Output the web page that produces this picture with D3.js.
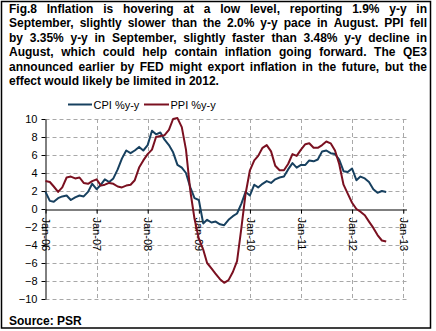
<!DOCTYPE html>
<html>
<head>
<meta charset="utf-8">
<script src="https://cdn.jsdelivr.net/npm/d3@7"></script>
<style>
  html, body { margin: 0; padding: 0; background: #fff; }
  svg { display: block; }
  text { font-family: "Liberation Sans", Arial, sans-serif; }
</style>
</head>
<body>
<svg id="chart" width="436" height="331"></svg>
<script>
// ---- Data (monthly, Jan-2006 .. Sep-2012) ----
const startMonth = "2006-01";
const cpi = [
  1.9, 0.9, 0.8, 1.2, 1.4, 1.5, 1.0, 1.3, 1.5, 1.4, 1.9, 2.8,
  2.2, 2.7, 3.3, 3.0, 3.4, 4.4, 5.6, 6.5, 6.2, 6.5, 6.9, 6.5,
  7.1, 8.7, 8.3, 8.5, 7.7, 7.1, 6.3, 4.9, 4.6, 4.0, 2.4, 1.2,
  1.0, -1.6, -1.2, -1.5, -1.4, -1.7, -1.8, -1.2, -0.8, -0.5, 0.6, 1.9,
  1.5, 2.7, 2.4, 2.8, 3.1, 2.9, 3.3, 3.5, 3.6, 4.4, 5.1, 4.6,
  4.9, 4.9, 5.4, 5.3, 5.5, 6.4, 6.5, 6.2, 6.1, 5.5, 4.2, 4.1,
  4.5, 3.2, 3.6, 3.4, 3.0, 2.2, 1.8, 2.0, 1.9
];
const ppi = [
  3.1, 3.0, 2.5, 1.9, 2.4, 3.5, 3.6, 3.4, 3.5, 2.9, 2.8, 3.1,
  3.3, 2.6, 2.7, 2.9, 2.8, 2.5, 2.4, 2.6, 2.7, 3.2, 4.6, 5.4,
  6.1, 6.6, 8.0, 8.1, 8.2, 8.8, 10.0, 10.1, 9.1, 6.6, 2.0, -1.1,
  -3.3, -4.5, -6.0, -6.6, -7.2, -7.8, -8.2, -7.9, -7.0, -5.8, -2.1, 1.7,
  4.3, 5.4, 5.9, 6.8, 7.1, 6.4, 4.8, 4.3, 4.3, 5.0, 6.1, 5.9,
  6.6, 7.2, 7.3, 6.8, 6.8, 7.1, 7.5, 7.3, 6.5, 5.0, 2.7, 1.7,
  0.7, 0.0, -0.3, -0.7, -1.4, -2.1, -2.9, -3.5, -3.6
];
const seriesNames = ["CPI %y-y", "PPI %y-y"];
const seriesColors = ["#17405f", "#7a1020"];
const yTicks = [-10, -8, -6, -4, -2, 0, 2, 4, 6, 8, 10];
const xTickYears = [2006, 2007, 2008, 2009, 2010, 2011, 2012, 2013];
const titleLines = [
  "Fig.8 Inflation is hovering at a low level, reporting 1.9% y-y in",
  "September, slightly slower than the 2.0% y-y pace in August. PPI fell",
  "by 3.35% y-y in September, slightly faster than 3.48% y-y decline in",
  "August, which could help contain inflation going forward. The QE3",
  "announced earlier by FED might export inflation in the future, but the",
  "effect would likely be limited in 2012."
];
const sourceText = "Source: PSR";

// ---- Build dates ----
const parseMonth = d3.timeParse("%Y-%m");
const d0 = parseMonth(startMonth);
const dates = cpi.map((_, i) => d3.timeMonth.offset(d0, i));

const svg = d3.select("#chart");
const W = 436, H = 331;

svg.append("rect").attr("x", 0).attr("y", 0).attr("width", W).attr("height", H).attr("fill", "#fff");
svg.append("rect").attr("x", 1.5).attr("y", 1.5).attr("width", 429).attr("height", 326.5)
  .attr("fill", "none").attr("stroke", "#000").attr("stroke-width", 1.5);

// ---- Title (justified) ----
const tLeft = 9, tRight = 427, tBase = 13, tStep = 14.4;
const titleG = svg.append("g").attr("font-size", 12).attr("font-weight", "bold").attr("fill", "#000");
titleLines.forEach((line, li) => {
  const words = line.split(" ");
  const yy = tBase + li * tStep;
  const nodes = words.map(w => titleG.append("text").attr("y", yy).text(w));
  const widths = nodes.map(n => n.node().getComputedTextLength());
  const total = d3.sum(widths);
  const last = li === titleLines.length - 1;
  const spaceW = 3.3;
  const gap = last ? spaceW : (tRight - tLeft - total) / (words.length - 1);
  let xx = tLeft;
  nodes.forEach((n, i) => { n.attr("x", xx); xx += widths[i] + gap; });
});

// ---- Scales ----
const x = d3.scaleTime()
  .domain([new Date(2006, 0, 1), new Date(2013, 0, 24)])
  .range([45.5, 406.5]);
const y = d3.scaleLinear().domain([-10, 10]).range([299, 119]);

// ---- Grid ----
const grid = svg.append("g").attr("stroke", "#a8a8a8").attr("stroke-width", 1).attr("stroke-dasharray", "4,3");
grid.selectAll("line.h").data(yTicks.filter(v => v !== 0)).enter().append("line")
  .attr("x1", x.range()[0]).attr("x2", x.range()[1])
  .attr("y1", d => Math.round(y(d)) + 0.5).attr("y2", d => Math.round(y(d)) + 0.5);
const yearDates = xTickYears.map(yr => new Date(yr, 0, 1));
grid.selectAll("line.v").data(yearDates.slice(1)).enter().append("line")
  .attr("x1", d => Math.round(x(d)) + 0.5).attr("x2", d => Math.round(x(d)) + 0.5)
  .attr("y1", y(10)).attr("y2", y(-10));

// ---- Axes ----
const yAxis = svg.append("g").attr("transform", `translate(${x.range()[0]},0)`)
  .call(d3.axisLeft(y).tickValues(yTicks).tickSize(4).tickSizeOuter(0).tickPadding(4));
yAxis.selectAll("text").attr("font-size", 11).attr("fill", "#000")
  .attr("font-family", "'Liberation Sans', Arial, sans-serif");
yAxis.selectAll("line, path").attr("stroke", "#000");

const xAxis = svg.append("g").attr("transform", `translate(0,${Math.round(y(0)) + 0.5})`)
  .call(d3.axisBottom(x).tickValues(yearDates).tickSize(4).tickSizeOuter(0)
    .tickFormat(d3.timeFormat("%b-%y")));
xAxis.selectAll("line, path").attr("stroke", "#000");
xAxis.selectAll("text")
  .attr("font-size", 11).attr("fill", "#000")
  .attr("font-family", "'Liberation Sans', Arial, sans-serif")
  .attr("text-anchor", "start")
  .attr("transform", "rotate(90)")
  .attr("x", 8).attr("y", 0).attr("dy", "0.35em");

// ---- Lines ----
const line = d3.line().x((d, i) => x(dates[i])).y(d => y(d));
[cpi, ppi].forEach((s, k) => {
  svg.append("path").datum(s)
    .attr("fill", "none").attr("stroke", seriesColors[k]).attr("stroke-width", 2)
    .attr("stroke-linejoin", "round").attr("d", line);
});

// ---- Legend ----
const legendItems = [
  { x1: 68, x2: 92, tx: 93.5 },
  { x1: 144, x2: 169, tx: 170.5 }
];
legendItems.forEach((it, k) => {
  svg.append("line").attr("x1", it.x1).attr("x2", it.x2).attr("y1", 104.5).attr("y2", 104.5)
    .attr("stroke", seriesColors[k]).attr("stroke-width", 2);
  svg.append("text").attr("x", it.tx).attr("y", 108.5).attr("font-size", 11).attr("fill", "#000")
    .text(seriesNames[k]);
});

// ---- Source ----
svg.append("text").attr("x", 9).attr("y", 325).attr("font-size", 12).attr("font-weight", "bold")
  .attr("fill", "#000").text(sourceText);
</script>
</body>
</html>
